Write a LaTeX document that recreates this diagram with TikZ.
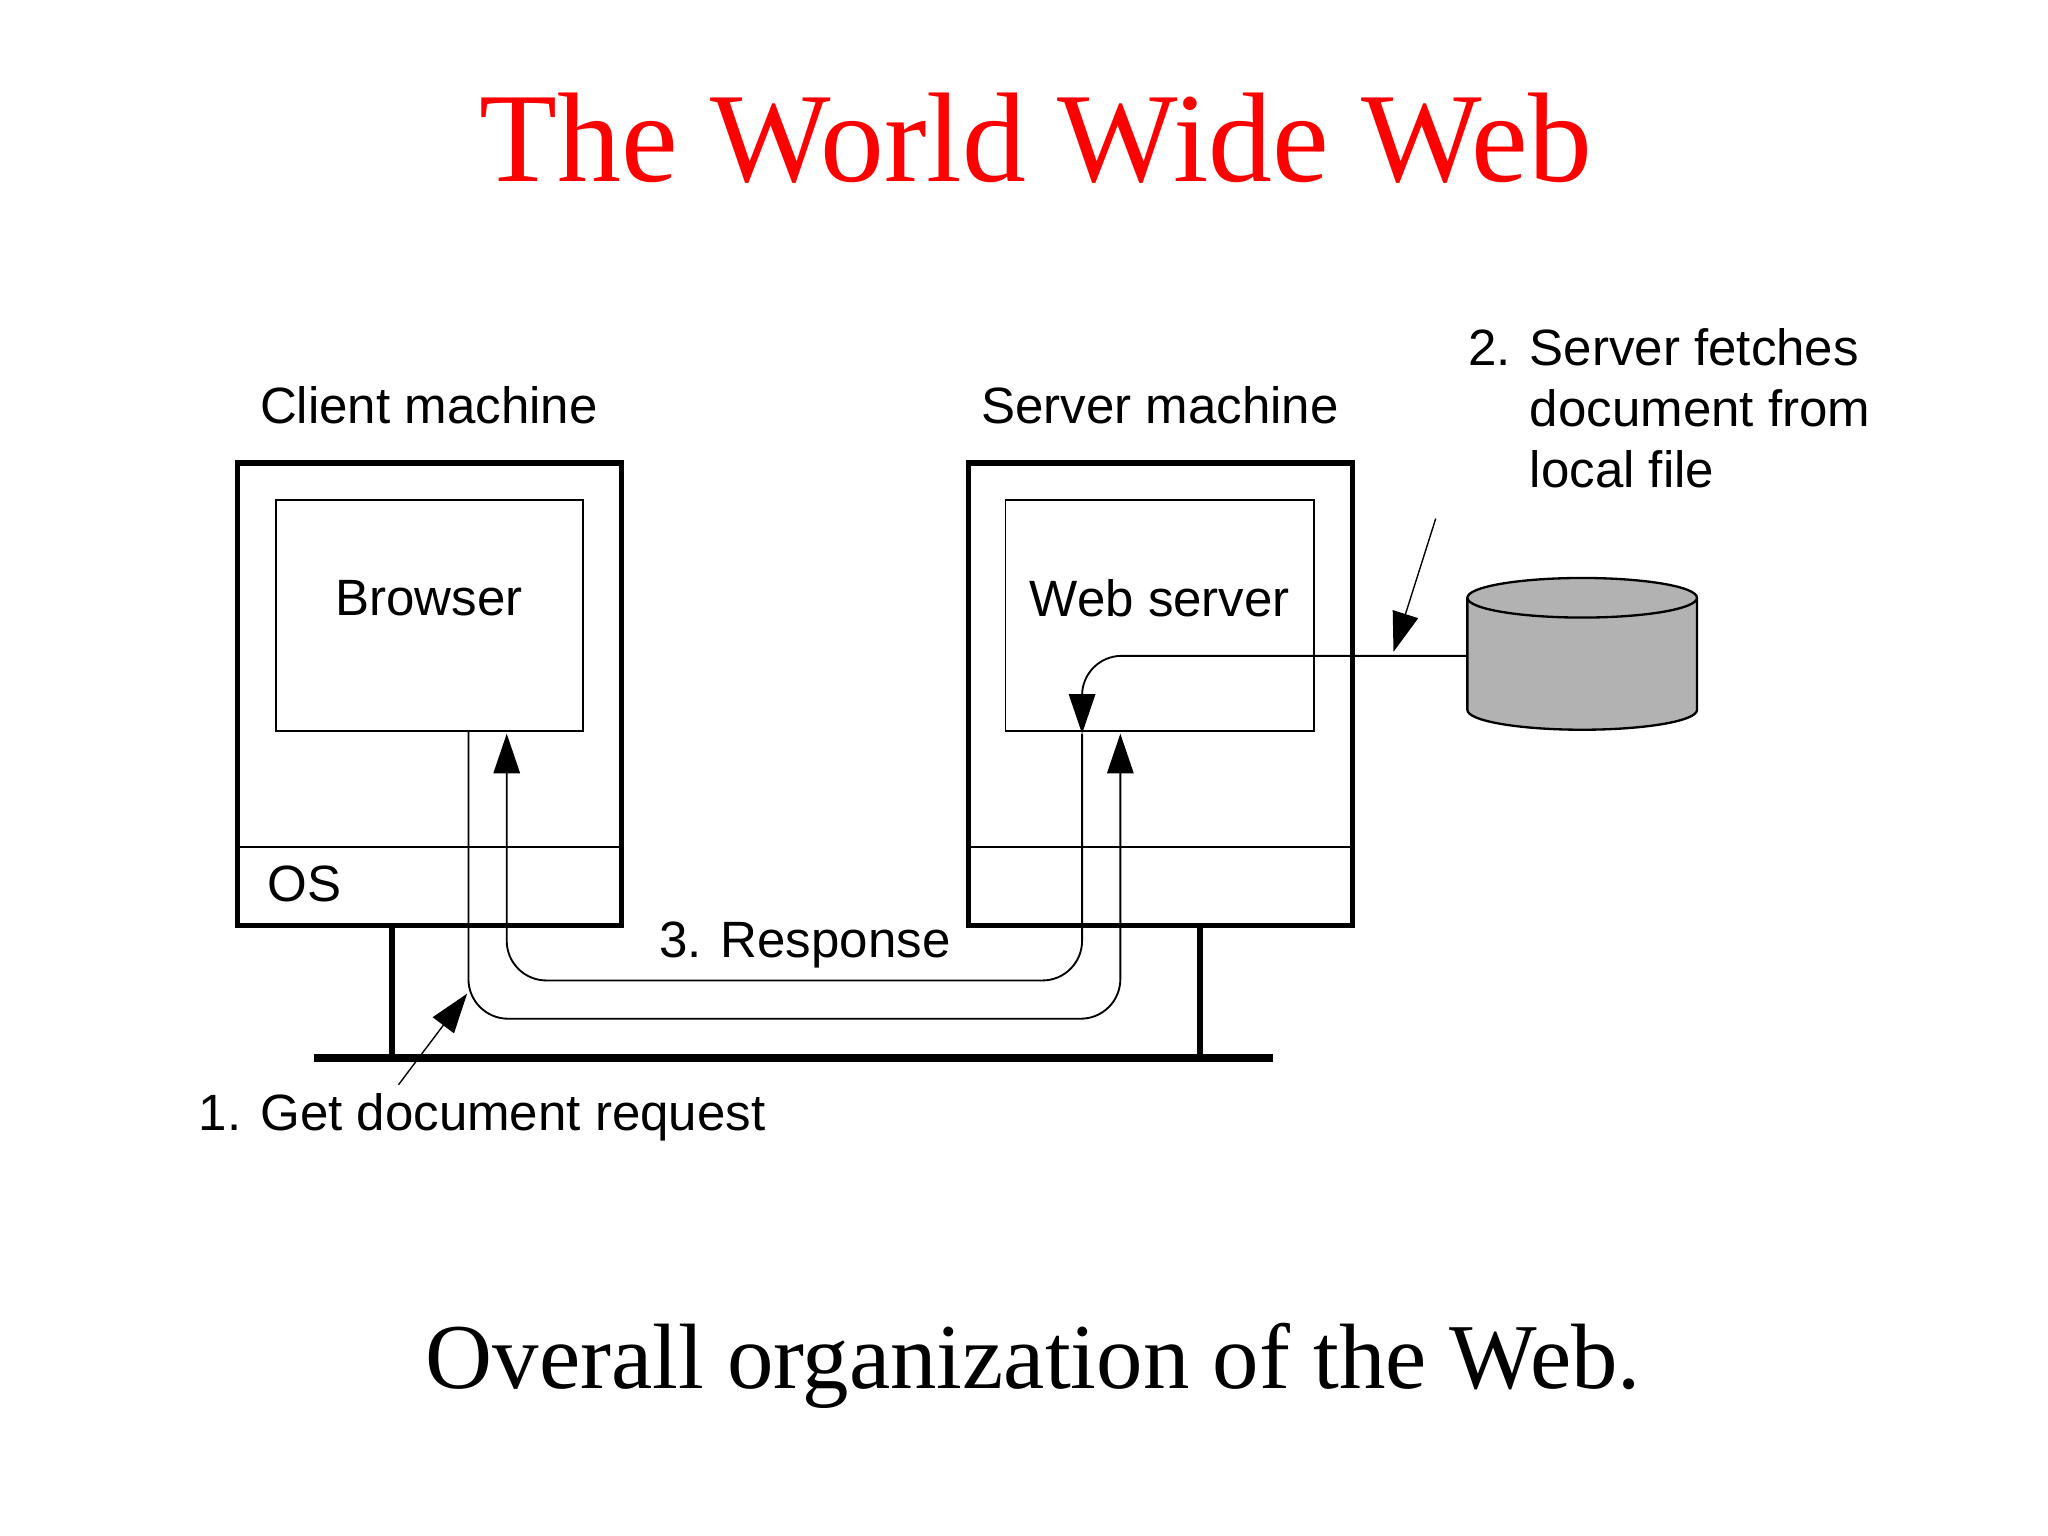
\documentclass[tikz,border=0pt]{standalone}
\usepackage{fontspec}
\setmainfont{Liberation Serif}
\newfontfamily\arialf{Liberation Sans}
\usetikzlibrary{arrows.meta,shapes.geometric}
\begin{document}
\begin{tikzpicture}[x=0.01cm,y=-0.01cm,
  lbl/.style={font=\arialf\fontsize{11}{13.2}\selectfont,inner sep=0pt},
  outer/.style={draw,line width=1.1pt},
  inner/.style={draw,line width=0.4pt},
  flow/.style={line width=0.4pt,rounded corners=0.3cm},
  tip/.style={-{Triangle[length=0.3cm,width=0.2cm]}},
  ptr/.style={line width=0.3pt,-{Triangle[length=0.3cm,width=0.2cm]}}]
\useasboundingbox (0,0) rectangle (1552,1164);
\node[red,font=\fontsize{27.5}{32}\selectfont] (title) at (785,105) {The World Wide Web};
\node[font=\fontsize{20}{24}\selectfont] (cap) at (783,1035) {Overall organization of the Web.};
% client
\node[outer,minimum width=2.91cm,minimum height=3.5cm,inner sep=0pt] (client) at (325.5,526) {};
\node[inner,minimum width=2.33cm,minimum height=1.75cm,inner sep=0pt] (browser) at (325.5,466.5) {};
\node[lbl] (btxt) at (325,453) {Browser};
\draw[inner] (180,642) coordinate (cos1) -- (471,642) coordinate (cos2);
\node[lbl] (os) at (231,670) {OS};
\node[lbl] (cm) at (325,307) {Client machine};
% server
\node[outer,minimum width=2.91cm,minimum height=3.5cm,inner sep=0pt] (server) at (879.5,526) {};
\node[inner,minimum width=2.34cm,minimum height=1.75cm,inner sep=0pt] (ws) at (879,466.5) {};
\node[lbl] (wtxt) at (879,453) {Web server};
\draw[inner] (734,642) coordinate (sos1) -- (1025,642) coordinate (sos2);
\node[lbl] (sm) at (879,307) {Server machine};
% network
\coordinate (n1) at (238,802); \coordinate (n2) at (965,802);
\draw[line width=1.7pt] (n1) -- (n2);
\coordinate (l1) at (297,802); \coordinate (l2) at (909,802);
\draw[line width=1.3pt] (297,701) -- (l1);
\draw[line width=1.3pt] (909,701) -- (l2);
% request
\coordinate (rq1) at (355,554);
\draw[flow,tip] (rq1) -- (355,772) -- (849,772) -- (849,556);
% response
\coordinate (rs1) at (820,556);
\draw[flow,tip] (rs1) -- (820,743) -- (384,743) -- (384,556);
% disk
\coordinate (dtop) at (1199,453);
\draw[fill=gray!60,line width=0.5pt] (1112,453) -- (1112,538) arc[start angle=180,end angle=0,x radius=87,y radius=15] -- (1286,453);
\draw[fill=gray!60,line width=0.5pt] (dtop) ellipse[x radius=87,y radius=15];
\coordinate (dl) at (1112,497);
\draw[flow,tip] (dl) -- (820,497) -- (820,556);
% pointers
\node[lbl,anchor=west] (r1) at (150,847) {1. Get document request};
\draw[ptr] (302,822) -- (354,753);
\node[lbl,anchor=north west,align=left] (r2) at (1112,248) {2. Server fetches\\\phantom{2. }document from\\\phantom{2. }local file};
\draw[ptr] (1088,393) -- (1056,494);
\node[lbl] (r3) at (610,716) {3. Response};
\end{tikzpicture}
\end{document}
